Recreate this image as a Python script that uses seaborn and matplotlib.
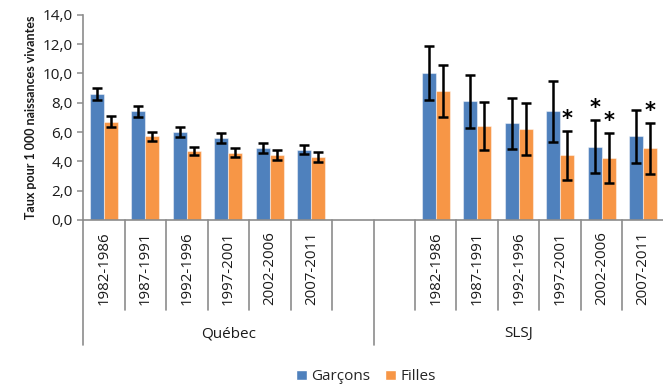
import numpy as np
import pandas as pd
import matplotlib
matplotlib.use("Agg")
import matplotlib.pyplot as plt
import seaborn as sns
from matplotlib.patches import Patch
from matplotlib.ticker import FuncFormatter
from matplotlib.transforms import blended_transform_factory

# ---- data -------------------------------------------------------------
regions = ["Québec", "SLSJ"]
periods = ["1982-1986", "1987-1991", "1992-1996", "1997-2001", "2002-2006", "2007-2011"]
sexes = ["Garçons", "Filles"]

quebec_garcons = [8.6, 7.4, 6.0, 5.6, 4.9, 4.8]
quebec_filles = [6.7, 5.7, 4.7, 4.6, 4.4, 4.3]
quebec_garcons_err = [0.42, 0.36, 0.33, 0.34, 0.34, 0.32]
quebec_filles_err = [0.36, 0.33, 0.30, 0.32, 0.34, 0.32]

slsj_garcons = [10.0, 8.1, 6.6, 7.4, 5.0, 5.7]
slsj_filles = [8.8, 6.4, 6.2, 4.4, 4.2, 4.9]
slsj_garcons_err = [1.85, 1.80, 1.75, 2.10, 1.80, 1.80]
slsj_filles_err = [1.80, 1.66, 1.77, 1.68, 1.70, 1.73]

# statistically significant differences (marked with *)
slsj_garcons_sig = [False, False, False, False, True, False]
slsj_filles_sig = [False, False, False, True, True, True]

BLUE = "#4F81BD"
ORANGE = "#F79646"
GRAY = "#8C8C8C"
INK = "#1a1a1a"

# ---- long-form table ----------------------------------------------------
rows = []
series = {
    ("Québec", "Garçons"): (quebec_garcons, quebec_garcons_err, [False] * 6),
    ("Québec", "Filles"): (quebec_filles, quebec_filles_err, [False] * 6),
    ("SLSJ", "Garçons"): (slsj_garcons, slsj_garcons_err, slsj_garcons_sig),
    ("SLSJ", "Filles"): (slsj_filles, slsj_filles_err, slsj_filles_sig),
}
for (region, sexe), (vals, errs, sigs) in series.items():
    for period, v, e, s in zip(periods, vals, errs, sigs):
        rows.append({"cat": f"{region} {period}", "region": region, "periode": period,
                     "sexe": sexe, "taux": v, "err": e, "sig": s})
df = pd.DataFrame(rows)

# two empty slots separate the regions
order = ([f"Québec {p}" for p in periods] + ["_gap1", "_gap2"] +
         [f"SLSJ {p}" for p in periods])

# ---- figure -------------------------------------------------------------
sns.set_style("white")
plt.rcParams["font.family"] = ["Open Sans", "DejaVu Sans"]

fig = plt.figure(figsize=(6.63, 3.85), dpi=100)
ax = fig.add_axes([0.1252, 0.4286, 0.8763, 0.5332])

sns.barplot(data=df, x="cat", y="taux", hue="sexe", order=order, hue_order=sexes,
            palette=[BLUE, ORANGE], width=0.67, errorbar=None, saturation=1,
            edgecolor=(1, 1, 1, 0.45), linewidth=0.8, legend=False, ax=ax)

# error bars and significance marks on each bar
for container, sexe in zip(ax.containers, sexes):
    sub = df[df["sexe"] == sexe].set_index("cat").loc[[c for c in order if not c.startswith("_")]]
    bars = sorted(container.patches, key=lambda p: p.get_x())
    for bar, (_, row) in zip(bars, sub.iterrows()):
        xc = bar.get_x() + bar.get_width() / 2
        h = bar.get_height()
        ax.errorbar(xc, h, yerr=row["err"], fmt="none", ecolor="black",
                    elinewidth=1.8, capsize=3.6, capthick=1.8, zorder=4)
        if row["sig"]:
            ax.annotate("*", xy=(xc, h + row["err"]), xytext=(0, 1.5),
                        textcoords="offset points", ha="center", va="bottom",
                        fontsize=15, fontweight="bold", color="black",
                        family="DejaVu Sans")

# ---- axes styling -------------------------------------------------------
ax.set_ylim(0, 14)
ax.set_xlim(-0.5, len(order) - 0.5)
ax.set_yticks(np.arange(0, 15, 2))
ax.yaxis.set_major_formatter(FuncFormatter(lambda v, _: f"{v:.1f}".replace(".", ",")))
ax.tick_params(axis="y", direction="out", length=4.5, width=1.1, color=GRAY,
               labelsize=11, pad=3, labelcolor=INK, left=True)
ax.set_xticks([])
ax.set_xlabel("")
ax.set_ylabel("Taux pour 1 000 naissances vivantes", fontsize=9.0, fontweight="bold",
              family=["Lato", "DejaVu Sans"], labelpad=4, color=INK)
for side in ("top", "right"):
    ax.spines[side].set_visible(False)
for side in ("left", "bottom"):
    ax.spines[side].set_color(GRAY)
    ax.spines[side].set_linewidth(1.2)

# ---- two-level category axis ------------------------------------------------
trans = blended_transform_factory(ax.transData, ax.transAxes)
n = len(order)
for b in np.arange(-0.5, n, 1.0):
    tall = b in (-0.5, 6.5, n - 0.5)
    ax.plot([b, b], [0, -0.609 if tall else -0.438], transform=trans,
            clip_on=False, color=GRAY, lw=1.2)

for i, cat in enumerate(order):
    if cat.startswith("_"):
        continue
    period = cat.split(" ", 1)[1]
    ax.text(i, -0.055, period, transform=trans, rotation=90, ha="center", va="top",
            fontsize=10.8, color=INK)

ax.text(3.0, -0.555, "Québec", transform=trans, ha="center", va="center",
        fontsize=11, color=INK)
ax.text(10.0, -0.555, "SLSJ", transform=trans, ha="center", va="center",
        fontsize=11, color=INK)

# ---- legend ---------------------------------------------------------------
handles = [Patch(facecolor=BLUE, label="Garçons"), Patch(facecolor=ORANGE, label="Filles")]
fig.legend(handles=handles, loc="center", bbox_to_anchor=(0.552, 0.021), ncol=2,
           frameon=False, handlelength=0.7, handleheight=0.7, handletextpad=0.3,
           columnspacing=1.0, fontsize=11, borderpad=0.2)

fig.savefig("out.png", dpi=100)
